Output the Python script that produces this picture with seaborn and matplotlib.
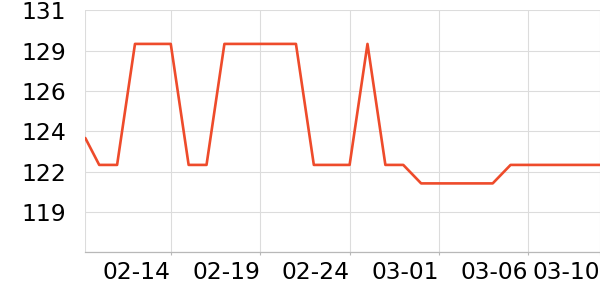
import matplotlib
matplotlib.use("Agg")
import matplotlib.pyplot as plt
import seaborn as sns
import pandas as pd

dates = ["2023-02-09 05:20", "2023-02-10 00:00", "2023-02-11 00:00", "2023-02-12 00:00", "2023-02-13 00:00",
         "2023-02-14 00:00", "2023-02-15 00:00", "2023-02-16 00:00", "2023-02-17 00:00", "2023-02-18 00:00",
         "2023-02-19 00:00", "2023-02-20 00:00", "2023-02-21 00:00", "2023-02-22 00:00", "2023-02-23 00:00",
         "2023-02-24 00:00", "2023-02-25 00:00", "2023-02-26 00:00", "2023-02-27 00:00", "2023-02-28 00:00",
         "2023-03-01 00:00", "2023-03-02 00:00", "2023-03-03 00:00", "2023-03-04 00:00", "2023-03-05 00:00",
         "2023-03-06 00:00", "2023-03-07 00:00", "2023-03-08 00:00", "2023-03-09 00:00", "2023-03-10 00:00"]
values = [123.6, 122.0, 122.0, 129.2, 129.2,
          129.2, 122.0, 122.0, 129.2, 129.2,
          129.2, 129.2, 129.2, 122.0, 122.0,
          122.0, 129.2, 122.0, 122.0, 120.9,
          120.9, 120.9, 120.9, 120.9, 122.0,
          122.0, 122.0, 122.0, 122.0, 122.0]
tick_dates = ["2023-02-14", "2023-02-19", "2023-02-24", "2023-03-01", "2023-03-06", "2023-03-10"]
tick_labels = ["02-14", "02-19", "02-24", "03-01", "03-06", "03-10"]
y_ticks = [116.8, 119.2, 121.6, 124.0, 126.4, 128.8, 131.2]
y_labels = ["", "119", "122", "124", "126", "129", "131"]

df = pd.DataFrame({"date": pd.to_datetime(dates, format="%Y-%m-%d %H:%M"), "value": values})

sns.set_theme(style="white")
plt.rcParams['font.family'] = ['DejaVu Sans']

fig = plt.figure(figsize=(6, 3), dpi=100)
ax = fig.add_axes([85.3 / 600, (300 - 252.3) / 300, 1 - 85.3 / 600, (252.3 - 10.3) / 300])

sns.lineplot(data=df, x="date", y="value", ax=ax, color="#EE4B2B", linewidth=1.9)

ax.set_xlim(df["date"].iloc[0], df["date"].iloc[-1])
ax.set_ylim(y_ticks[0], y_ticks[-1])
ax.set_yticks(y_ticks)
ax.set_yticklabels(y_labels)
ax.set_xticks(pd.to_datetime(tick_dates))
ax.set_xticklabels(tick_labels, ha="right")

ax.grid(True, color="#dcdcdc", linewidth=0.8)
ax.set_axisbelow(True)
for s in ["top", "right", "left"]:
    ax.spines[s].set_visible(False)
ax.spines["bottom"].set_color("#b8b8b8")
ax.spines["bottom"].set_linewidth(0.9)
ax.axvline(df["date"].iloc[0], color="#dcdcdc", linewidth=0.8, zorder=0)

ax.tick_params(axis="x", which="major", length=2.2, color="#b8b8b8", width=0.8,
               pad=4.2, labelsize=16.8, labelcolor="black", bottom=True)
ax.tick_params(axis="y", which="major", length=0, pad=14, labelsize=16.8, labelcolor="black")
ax.set_xlabel("")
ax.set_ylabel("")

fig.savefig("out.png", dpi=100)
